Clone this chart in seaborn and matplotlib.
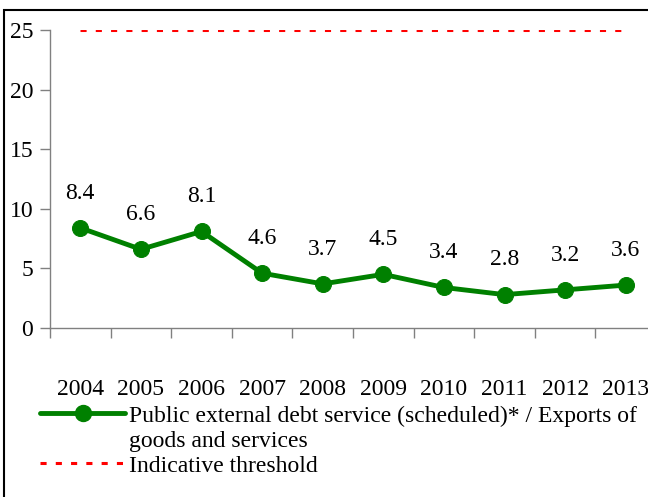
import matplotlib.pyplot as plt
import seaborn as sns
import pandas as pd
from matplotlib.lines import Line2D
from matplotlib.patches import Rectangle

sns.set_style('white')
plt.rcParams['font.family'] = ['Liberation Serif', 'DejaVu Serif']
plt.rcParams['text.color'] = 'black'
plt.rcParams['xtick.color'] = 'black'
plt.rcParams['ytick.color'] = 'black'

years = ['2004', '2005', '2006', '2007', '2008', '2009', '2010', '2011', '2012', '2013']
debt_ratio = [8.4, 6.6, 8.1, 4.6, 3.7, 4.5, 3.4, 2.8, 3.2, 3.6]
threshold = [25, 25, 25, 25, 25, 25, 25, 25, 25, 25]

df = pd.DataFrame({'pos': range(len(years)), 'year': years,
                   'ratio': debt_ratio, 'threshold': threshold})

fs = 17
fig = plt.figure(figsize=(6.48, 4.97), dpi=100)
ax = fig.add_axes([50 / 648, 1 - 328 / 497, 606 / 648, 298 / 497])

green = '#008000'
dash = (0, (2, 3))
sns.lineplot(data=df, x='pos', y='threshold', ax=ax, color='#ff0000',
             linewidth=2.2, linestyle=dash)
sns.lineplot(data=df, x='pos', y='ratio', ax=ax, color=green, linewidth=3.5,
             marker='o', markersize=11.5, markeredgecolor=green)

# value labels above points
for x, v in zip(df['pos'], df['ratio']):
    ax.annotate(f'{v:.1f}', (x, v), xytext=(0, 25), textcoords='offset points',
                ha='center', va='center', fontsize=fs)

ax.set_xlim(-0.5, len(years) - 0.5)
ax.set_ylim(0, 25)
ax.set_yticks([0, 5, 10, 15, 20, 25])
ax.set_xticks(df['pos'])
ax.set_xticklabels(years)
ax.set_xticks([i - 0.5 for i in range(len(years) + 1)], minor=True)
ax.tick_params(axis='x', which='major', length=0, pad=37, labelsize=fs)
ax.tick_params(axis='x', which='minor', length=7, color='#808080', width=1, direction='out')
ax.tick_params(axis='y', length=7, color='#808080', width=1, direction='out', pad=5, labelsize=fs)
ax.tick_params(bottom=True, left=True, which='both')
ax.set(xlabel=None, ylabel=None)

for side in ['top', 'right']:
    ax.spines[side].set_visible(False)
for side in ['left', 'bottom']:
    ax.spines[side].set_color('#808080')
    ax.spines[side].set_linewidth(1)

# legend below the plot
handles = [
    Line2D([], [], color=green, linewidth=3.5, marker='o', markersize=11.5),
    Line2D([], [], color='none'),
    Line2D([], [], color='#ff0000', linewidth=2.2, linestyle=dash),
]
labels = ['Public external debt service (scheduled)* / Exports of',
          'goods and services', 'Indicative threshold']
fig.legend(handles, labels, loc='upper left', bbox_to_anchor=(40 / 648, 1 - 405 / 497),
           frameon=False, fontsize=fs, handlelength=3.6, handletextpad=0.15,
           labelspacing=0.15, borderaxespad=0, borderpad=0)

# outer frame
fig.add_artist(Rectangle((4 / 648, -0.1), 1.2, 1.1 - 10 / 497, fill=False,
                         edgecolor='black', linewidth=1.5, transform=fig.transFigure))

fig.savefig('out.png', dpi=100)
